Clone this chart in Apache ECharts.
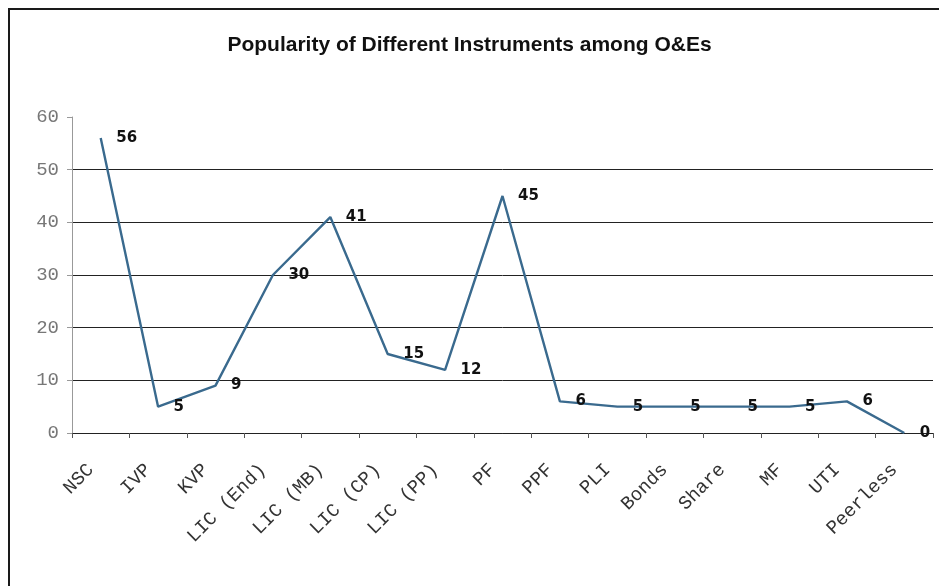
<!DOCTYPE html>
<html>
<head>
<meta charset="utf-8">
<script src="https://cdn.jsdelivr.net/npm/echarts@6/dist/echarts.min.js"></script>
<style>
  html, body { margin: 0; padding: 0; background: #fff; }
  #chart { width: 939px; height: 586px; }
</style>
</head>
<body>
<div id="chart"></div>
<script>
// Instruments and how many respondents chose each
const instruments = ['NSC', 'IVP', 'KVP', 'LIC (End)', 'LIC (MB)', 'LIC (CP)', 'LIC (PP)',
  'PF', 'PPF', 'PLI', 'Bonds', 'Share', 'MF', 'UTI', 'Peerless'];
const counts = [56, 5, 9, 30, 41, 15, 12, 45, 6, 5, 5, 5, 5, 6, 0];
const yTicks = [0, 10, 20, 30, 40, 50, 60];

const chart = echarts.init(document.getElementById('chart'), null, { renderer: 'canvas' });

const gridColor = '#222';
// hide the top split line (the 60 level has only a tick)
const splitColors = yTicks.map((v, i) => (i === yTicks.length - 1 ? 'rgba(0,0,0,0)' : gridColor));

chart.setOption({
  backgroundColor: '#fff',
  animation: false,
  title: {
    text: 'Popularity of Different Instruments among O&Es',
    left: 'center',
    top: 30,
    textStyle: {
      fontFamily: 'Liberation Sans, Arial, sans-serif',
      fontWeight: 'bold',
      fontSize: 21,
      color: '#111'
    }
  },
  graphic: [{
    type: 'rect',
    shape: { x: 9, y: 9, width: 960, height: 620 },
    style: { fill: 'none', stroke: '#1a1a1a', lineWidth: 2 },
    silent: true
  }],
  grid: { left: 72, right: 6, top: 117, bottom: 153, containLabel: false },
  xAxis: {
    type: 'category',
    data: instruments,
    boundaryGap: true,
    axisLine: { show: true, lineStyle: { color: '#222', width: 1 } },
    axisTick: { show: true, length: 5, lineStyle: { color: '#555' } },
    axisLabel: {
      rotate: 45,
      interval: 0,
      margin: 24,
      padding: [0, 14, 0, 0],
      fontFamily: 'Liberation Mono, Courier New, monospace',
      fontSize: 19,
      color: '#333'
    },
    splitLine: { show: false }
  },
  yAxis: {
    type: 'value',
    min: 0,
    max: 60,
    interval: 10,
    axisLine: { show: true, lineStyle: { color: '#999', width: 1 } },
    axisTick: { show: true, length: 5, lineStyle: { color: '#999' } },
    axisLabel: {
      margin: 13,
      fontFamily: 'Liberation Mono, Courier New, monospace',
      fontSize: 19,
      color: '#777'
    },
    splitLine: { show: true, lineStyle: { color: splitColors, width: 1 } }
  },
  series: [{
    type: 'line',
    data: counts,
    symbol: 'circle',
    symbolSize: 1,
    showSymbol: true,
    itemStyle: { color: 'rgba(0,0,0,0)' },
    lineStyle: { color: '#3a6a8e', width: 2.4 },
    label: {
      show: true,
      position: 'right',
      distance: 15,
      fontFamily: 'DejaVu Sans, Verdana, sans-serif',
      fontWeight: 'bold',
      fontSize: 15,
      color: '#111'
    },
    z: 3
  }]
});
</script>
</body>
</html>
